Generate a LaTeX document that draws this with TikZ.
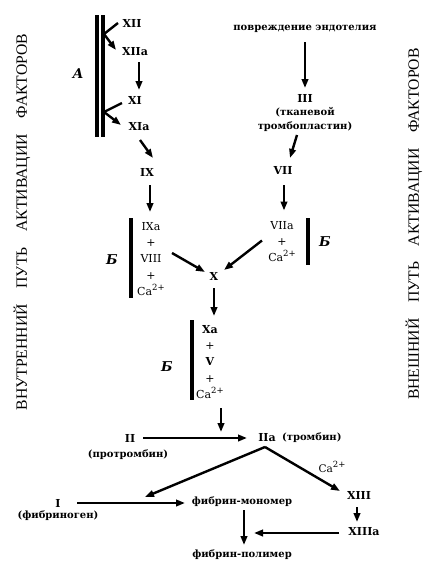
\documentclass[tikz,border=0pt]{standalone}
\usepackage{fontspec}
\setmainfont{Liberation Serif}
\newfontfamily\capfont{Liberation Serif}
\newfontfamily\lblfont{DejaVu Serif}
\newcommand\caion{Ca\raisebox{0.85ex}{\fontsize{8.5}{8.5}\selectfont 2+}}
\usetikzlibrary{arrows.meta,positioning}

\begin{document}
\begin{tikzpicture}[
  x=1pt,y=-1pt,
  >={Triangle[length=9pt,width=6.5pt]},
  fac/.style={font=\lblfont\bfseries\fontsize{10}{13.5}\selectfont,inner sep=1pt,align=center},
  num/.style={font=\lblfont\bfseries\fontsize{11}{13.5}\selectfont,inner sep=1pt,align=center},
  lab/.style={font=\lblfont\fontsize{10.5}{12}\selectfont,inner sep=1pt,align=center},
  blk/.style={font=\lblfont\fontsize{11}{16.4}\selectfont,inner sep=1pt,align=center},
  grp/.style={font=\lblfont\bfseries\itshape\fontsize{13.5}{13.5}\selectfont,inner sep=1pt},
  side/.style={font=\capfont\fontsize{15.7}{15.7}\selectfont,rotate=90,inner sep=0pt},
  sig/.style={->,line width=2.4pt},
  lin/.style={line width=2.4pt},
  bar/.style={line width=3.8pt}]

  \useasboundingbox[fill=white] (0,0) rectangle (425,568);

  % ================= side captions =================
  \node[side] (intr) at (22,222) {ВНУТРЕННИЙ\quad ПУТЬ\quad АКТИВАЦИИ\quad ФАКТОРОВ};
  \node[side] (extr) at (414,224) {ВНЕШНИЙ\quad ПУТЬ\quad АКТИВАЦИИ\quad ФАКТОРОВ};

  % ================= intrinsic path (contact) =================
  \node[num] (xii) at (132,23) {XII};
  \node[num] (xiia) at (135,52) {XIIa};
  \node[num] (xi) at (135,100) {XI};
  \node[num] (xia) at (139,127) {XIa};
  \node[num] (ix) at (147,172) {IX};
  \node[grp] (grpA) at (78,74) {А};

  % contact surface (double bar)
  \draw[line width=4pt] (97,15) -- (97,137);
  \draw[line width=3.5pt] (103,15) -- (103,137);
  \coordinate (j1) at (104,34);
  \coordinate (j2) at (104,112);

  \draw[lin] ([shift={(-14,0)}]xii.center) -- (j1);
  \draw[sig] (j1) -- ([shift={(-19,-2)}]xiia.center);
  \draw[sig] ([shift={(4,10)}]xiia.center) -- ([shift={(4,-10)}]xi.center);
  \draw[lin] ([shift={(-13,3)}]xi.center) -- (j2);
  \draw[sig] (j2) -- ([shift={(-18,-2)}]xia.center);
  \draw[sig] ([shift={(1,13)}]xia.center) -- ([shift={(6,-14)}]ix.center);

  % ================= extrinsic path =================
  \node[fac] (pov) at (305,29) {повреждение эндотелия};
  \node[fac] (iii) at (305,113) {{\fontsize{11}{13.5}\selectfont III}\\(тканевой\\тромбопластин)};
  \node[num] (vii) at (283,170) {VII};

  \draw[sig] ([shift={(0,13)}]pov.center) -- ([shift={(0,-25)}]iii.center);
  \draw[sig] ([shift={(-8,22)}]iii.center) -- ([shift={(7,-12)}]vii.center);

  % ================= tenase complexes =================
  \node[blk] (blkL) at (151,259) {IXa\\+\\VIII\\+\\\caion};
  \node[blk] (blkR) at (282,241.5) {VIIa\\+\\\caion};
  \node[num] (x) at (214,276) {X};
  \node[grp] (grpL) at (112,260) {Б};
  \node[grp] (grpR) at (325,242) {Б};

  \draw[bar] ([shift={(-20,-41)}]blkL.center) -- ([shift={(-20,39)}]blkL.center);
  \draw[bar] ([shift={(26,-23.5)}]blkR.center) -- ([shift={(26,23.5)}]blkR.center);

  \draw[sig] ([shift={(3,13)}]ix.center) -- ([shift={(-1,-47)}]blkL.center);
  \draw[sig] ([shift={(1,15)}]vii.center) -- ([shift={(2,-31)}]blkR.center);
  \draw[sig] ([shift={(21,-6)}]blkL.center) -- ([shift={(-9,-4)}]x.center);
  \draw[sig] ([shift={(-20,-1)}]blkR.center) -- ([shift={(10,-6)}]x.center);

  % ================= prothrombinase =================
  \node[blk] (bxa) at (210,362) {\textbf{Xa}\\+\\\textbf{V}\\+\\\caion};
  \node[grp] (grpX) at (167,367) {Б};
  \draw[bar] ([shift={(-18,-42)}]bxa.center) -- ([shift={(-18,38)}]bxa.center);
  \draw[sig] ([shift={(0,12)}]x.center) -- ([shift={(4,-46)}]bxa.center);

  % ================= thrombin and fibrin =================
  \node[num] (ii) at (130,438) {II};
  \node[fac] (prt) at (128,455) {(протромбин)};
  \node[num] (iia) at (267,438) {IIa};
  \node[fac,right=4pt of iia] (trb) {(тромбин)};
  \node[num] (fi) at (58,503) {I};
  \node[fac] (fgn) at (58,516) {(фибриноген)};
  \node[fac] (mono) at (242,502) {фибрин-мономер};
  \node[fac] (poly) at (242,555) {фибрин-полимер};
  \node[num] (xiii) at (359,495) {XIII};
  \node[num] (xiiia) at (364,532) {XIIIa};
  \node[lab] (ca) at (332,467) {\caion};

  \draw[sig] ([shift={(13,0)}]ii.center) -- coordinate[pos=0.75] (thr) ([shift={(-20,0)}]iia.center);
  \draw[sig] ([shift={(11,46)}]bxa.center) -- ([shift={(0,-6)}]thr);
  \coordinate (spl) at ([shift={(-2,9)}]iia.center);
  \draw[sig] ([shift={(19,0)}]fi.center) -- ([shift={(-57,1)}]mono.center);
  \draw[sig] (spl) -- ([shift={(-97,-5)}]mono.center);
  \draw[sig] (spl) -- ([shift={(-19,-4)}]xiii.center);
  \draw[sig] ([shift={(-2,12)}]xiii.center) -- ([shift={(-7,-10)}]xiiia.center);
  \draw[sig] ([shift={(2,8)}]mono.center) -- ([shift={(2,-10)}]poly.center);
  \draw[sig] ([shift={(-25,1)}]xiiia.center) -- ([shift={(12,-22)}]poly.center);
\end{tikzpicture}
\end{document}
